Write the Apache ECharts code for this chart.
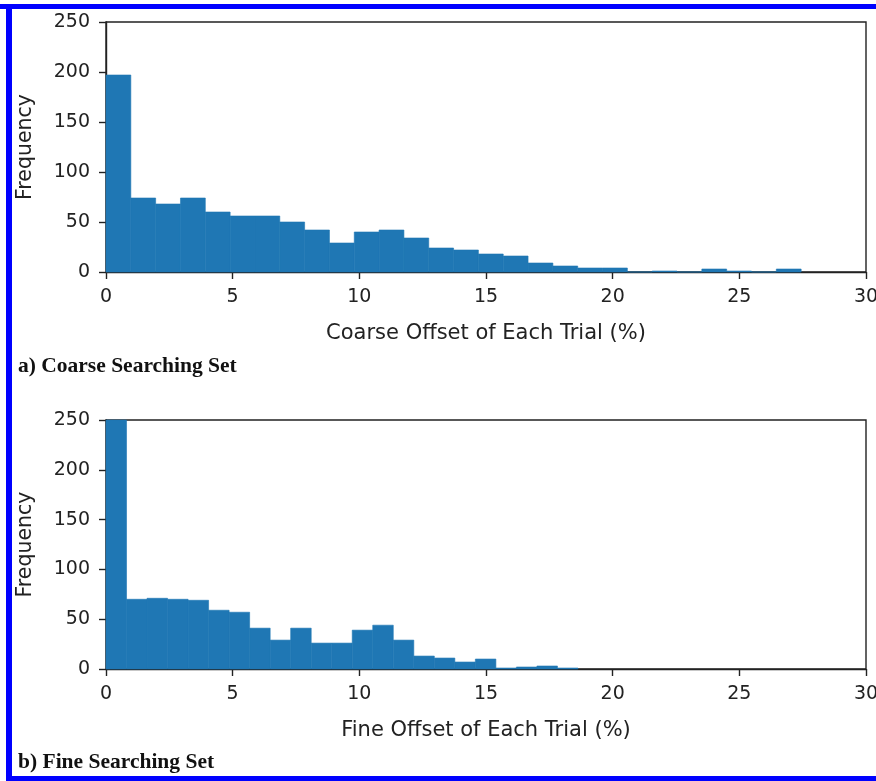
<!DOCTYPE html>
<html>
<head>
<meta charset="utf-8">
<script src="https://cdn.jsdelivr.net/npm/echarts@6/dist/echarts.min.js"></script>
<style>
  html, body { margin: 0; padding: 0; background: #fff; }
  #chart { width: 876px; height: 781px; }
</style>
</head>
<body>
<div id="chart"></div>
<script>
// histogram counts (one value per bin, starting at 0)
const coarseBinWidth = 0.98
const coarseCounts = [197, 74, 68, 74, 60, 56, 56, 50, 42, 29, 40, 42, 34, 24, 22, 18, 16, 9, 6, 4, 4, 0, 1, 0, 3, 1, 0, 3]
const fineBinWidth = 0.81
// first bin runs past the top of the axis in the original
const fineCounts = [300, 70, 71, 70, 69, 59, 57, 41, 29, 41, 26, 26, 39, 44, 29, 13, 11, 7, 10, 1, 2, 3, 1]

const xTicks = [0, 5, 10, 15, 20, 25, 30]
const yTicks = [0, 50, 100, 150, 200, 250]
const xNames = ['Coarse Offset of Each Trial (%)', 'Fine Offset of Each Trial (%)']
const panelLabels = ['a) Coarse Searching Set', 'b) Fine Searching Set']

const barColor = '#1f77b4'
const textColor = '#222'

const toBins = (counts, w) => counts.map((c, i) => [i * w, (i + 1) * w, c])

const renderBin = (params, api) => {
  const p0 = api.coord([api.value(0), 0])
  const p1 = api.coord([api.value(1), api.value(2)])
  const shape = echarts.graphic.clipRectByRect({
    x: p0[0], y: p1[1], width: p1[0] - p0[0], height: p0[1] - p1[1]
  }, {
    x: params.coordSys.x, y: params.coordSys.y,
    width: params.coordSys.width, height: params.coordSys.height
  })
  if (!shape) return
  return {
    type: 'rect',
    shape: shape,
    style: { fill: barColor, stroke: barColor, lineWidth: 0.6 }
  }
}

const mChart = echarts.init(document.getElementById('chart'))

const grids = [
  { left: 106, top: 22, width: 760, height: 250 },
  { left: 106, top: 420, width: 760, height: 249 }
]

const xAxis = grids.map((g, i) => ({
  type: 'value',
  gridIndex: i,
  min: xTicks[0],
  max: xTicks[xTicks.length - 1],
  interval: 5,
  name: xNames[i],
  nameLocation: 'middle',
  nameGap: 51,
  nameTextStyle: { fontFamily: 'DejaVu Sans', fontSize: 21, color: textColor },
  axisLine: { onZero: false, lineStyle: { color: '#222', width: 1.4 } },
  axisTick: { length: 7, lineStyle: { color: '#222', width: 1.4 } },
  axisLabel: { margin: 16, fontFamily: 'DejaVu Sans', fontSize: 19, color: textColor, showMaxLabel: true },
  splitLine: { show: false }
}))

const yAxis = grids.map((g, i) => ({
  type: 'value',
  gridIndex: i,
  min: yTicks[0],
  max: yTicks[yTicks.length - 1],
  interval: 50,
  name: 'Frequency',
  nameLocation: 'middle',
  nameGap: 70,
  nameTextStyle: { fontFamily: 'DejaVu Sans', fontSize: 20.5, color: textColor },
  axisLine: { show: true, lineStyle: { color: '#222', width: 1.4 } },
  axisTick: { show: true, length: 7, lineStyle: { color: '#222', width: 1.4 } },
  axisLabel: { margin: 16, fontFamily: 'DejaVu Sans', fontSize: 19, color: textColor },
  splitLine: { show: false }
}))

const option = {
  animation: false,
  backgroundColor: '#fff',
  grid: grids.map(g => ({
    ...g, show: true, borderColor: '#222', borderWidth: 1.4,
    backgroundColor: 'transparent', outerBoundsMode: 'none', containLabel: false
  })),
  xAxis: xAxis,
  yAxis: yAxis,
  series: [
    { type: 'custom', xAxisIndex: 0, yAxisIndex: 0, renderItem: renderBin, data: toBins(coarseCounts, coarseBinWidth) },
    { type: 'custom', xAxisIndex: 1, yAxisIndex: 1, renderItem: renderBin, data: toBins(fineCounts, fineBinWidth) }
  ],
  graphic: [
    // blue frame round the figure (no right side visible)
    { type: 'rect', shape: { x: 0, y: 4, width: 876, height: 5 }, style: { fill: '#0000ff' } },
    { type: 'rect', shape: { x: 6, y: 4, width: 6, height: 777 }, style: { fill: '#0000ff' } },
    { type: 'rect', shape: { x: 6, y: 776, width: 870, height: 5 }, style: { fill: '#0000ff' } },
    {
      type: 'text', left: 18, top: 355,
      style: { text: panelLabels[0], font: 'bold 21.5px "Liberation Serif"', fill: '#111' }
    },
    {
      type: 'text', left: 18, top: 751,
      style: { text: panelLabels[1], font: 'bold 21.5px "Liberation Serif"', fill: '#111' }
    }
  ]
}

mChart.setOption(option)
</script>
</body>
</html>
